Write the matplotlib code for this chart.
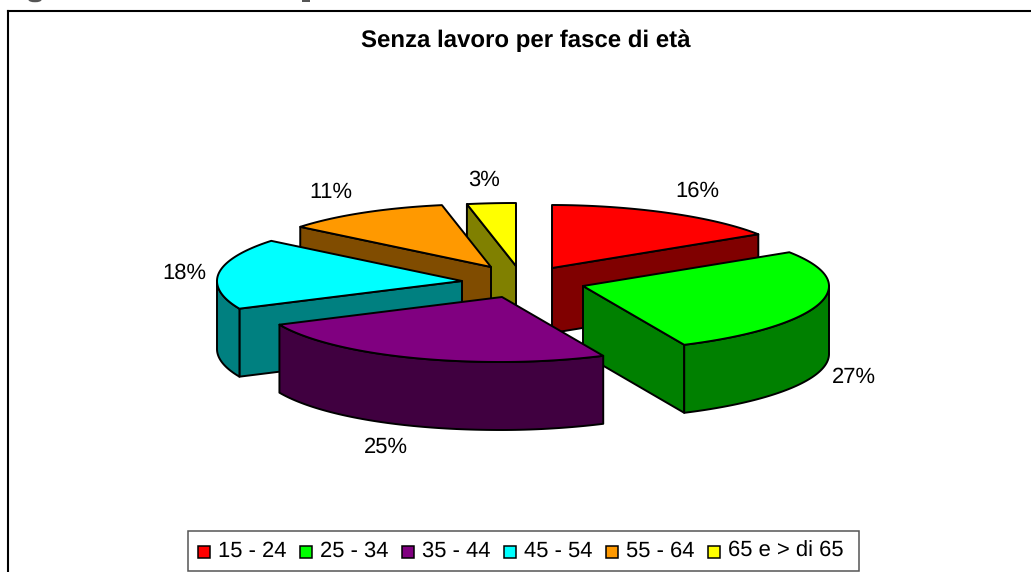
import numpy as np
import matplotlib
matplotlib.use("Agg")
import matplotlib.pyplot as plt
from matplotlib.patches import Polygon, Rectangle, Ellipse

categories = ["15 - 24", "25 - 34", "35 - 44", "45 - 54", "55 - 64", "65 e > di 65"]
shares = [16, 27, 25, 18, 11, 3]
share_labels = ["16%", "27%", "25%", "18%", "11%", "3%"]

top_colors = ["#FF0000", "#00FF00", "#800080", "#00FFFF", "#FF9900", "#FFFF00"]
wall_colors = ["#800000", "#008000", "#400040", "#008080", "#804C00", "#808000"]
apexes = [(552, 268), (583, 286), (502, 297), (462, 281), (491, 267), (516, 266)]
depths = [65, 68, 68, 68, 66, 65]
label_pos = [(697, 190), (854, 376), (386, 446), (184, 272), (331, 191), (484, 179)]
draw_order = [5, 4, 0, 3, 1, 2]
RX_LEFT, RX_RIGHT = 245, 246
RY_BACK, RY_FRONT = 63, 65

plt.rcParams["font.family"] = ["Liberation Sans", "DejaVu Sans"]
plt.rcParams["text.hinting"] = "no_hinting"
plt.rcParams["text.hinting_factor"] = 1
W, H = 1031, 572
fig = plt.figure(figsize=(W / 100, H / 100), dpi=100)
ax = fig.add_axes([0, 0, 1, 1])
ax.set_xlim(0, W)
ax.set_ylim(H, 0)
ax.axis("off")

# outer frame (the image crops its right and bottom sides)
ax.plot([8.3, 8.3], [H + 5, 10.8], color="black", lw=1.5, solid_capstyle="projecting", zorder=1)
ax.plot([8.3, W + 5], [10.8, 10.8], color="black", lw=1.5, solid_capstyle="projecting", zorder=1)

# remnants of the caption that the top edge of the image cuts away
ax.add_patch(Ellipse((35, 0), 13, 4.5, facecolor="#555555", edgecolor="none", zorder=1))
ax.add_patch(Rectangle((302, 0), 8, 2, facecolor="#555555", edgecolor="none", zorder=1))

ax.text(526, 47.5, "Senza lavoro per fasce di età", ha="center", va="baseline",
        fontsize=17.2, fontweight="bold", color="black")


def pt(apex, deg, dz=0.0):
    t = np.radians(deg)
    s, c = np.sin(t), np.cos(t)
    dx = RX_RIGHT * abs(s) ** 1.04 if s >= 0 else -RX_LEFT * abs(s) ** 0.96
    dy = -RY_BACK * c if c >= 0 else -RY_FRONT * c
    return apex[0] + dx, apex[1] + dy + dz


edges = np.cumsum([0] + shares) / sum(shares) * 360.0
EC = dict(edgecolor="black", linewidth=1.4, joinstyle="round")
z = 2
for i in draw_order:
    a, b = edges[i], edges[i + 1]
    apex = apexes[i]
    depth = depths[i]
    lo = max(a, 90.0)
    hi = min(b, 270.0)
    # radial side walls that face the viewer
    walls = []
    if np.sin(np.radians(a)) < -1e-6:
        walls.append(a)
    if np.sin(np.radians(b)) > 1e-6:
        walls.append(b)
    for deg in walls:
        p = pt(apex, deg)
        poly = [apex, p, (p[0], p[1] + depth), (apex[0], apex[1] + depth)]
        ax.add_patch(Polygon(poly, closed=True, facecolor=wall_colors[i], zorder=z, **EC))
        z += 1
    # curved outer wall
    if hi > lo:
        ang = np.linspace(lo, hi, 80)
        upper = [pt(apex, d) for d in ang]
        lower = [pt(apex, d, depth) for d in ang[::-1]]
        ax.add_patch(Polygon(upper + lower, closed=True, facecolor=wall_colors[i], zorder=z, **EC))
        z += 1
    # top face
    ang = np.linspace(a, b, 80)
    ax.add_patch(Polygon([apex] + [pt(apex, d) for d in ang], closed=True,
                         facecolor=top_colors[i], zorder=z, **EC))
    z += 1

for (x, y), s in zip(label_pos, share_labels):
    ax.text(x, y + 1, s, ha="center", va="center", fontsize=15.8, color="black", zorder=50)

# legend
ax.add_patch(Rectangle((188, 531), 671, 40, facecolor="white", edgecolor="#555555", lw=1.1, zorder=40))
swatch_x = [198, 300, 402, 504, 606, 708]
for x, c, name in zip(swatch_x, top_colors, categories):
    ax.add_patch(Rectangle((x, 546), 12, 12, facecolor=c, edgecolor="black", lw=1.1, zorder=41))
    ax.text(x + 20, 557, name, ha="left", va="baseline", fontsize=16.2, color="black", zorder=41)

fig.savefig("out.png", dpi=100)
